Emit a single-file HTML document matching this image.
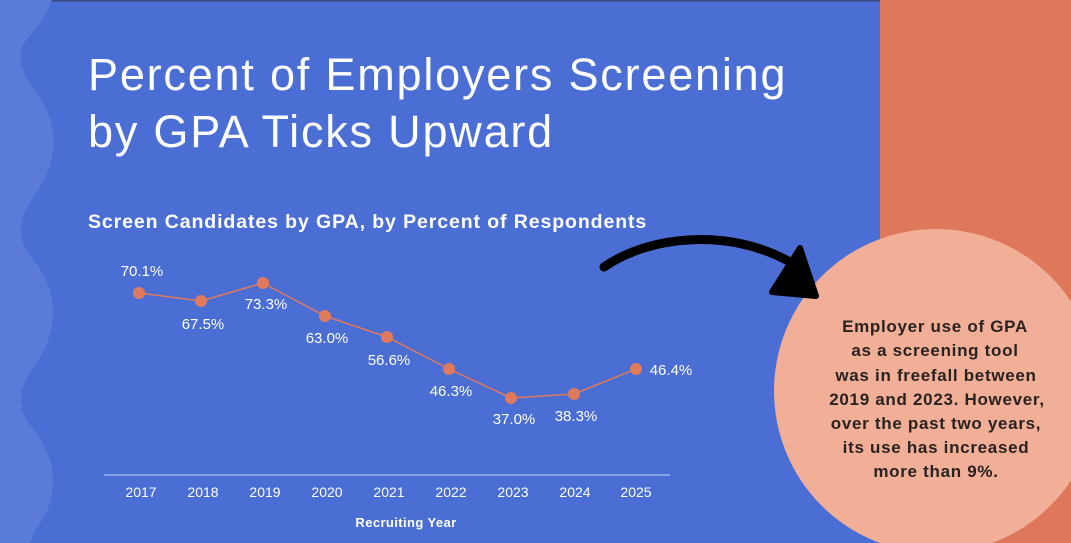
<!DOCTYPE html>
<html><head><style>
body{margin:0;width:1071px;height:543px;overflow:hidden;background:#4a6fd3;font-family:"Liberation Sans",sans-serif;}
</style></head><body>
<svg width="1071" height="543" viewBox="0 0 1071 543" xmlns="http://www.w3.org/2000/svg" style="position:absolute;left:0;top:0">
<rect width="1071" height="543" fill="#4a6ed3"/>
<rect width="1071" height="1.5" fill="#3a4a7a"/>
<path d="M0 0 L52 0 C45 20 35 30 28 38 C15 52 20 70 35 90 C60 125 60 160 35 195 C20 215 15 235 30 255 C60 290 60 330 35 365 C20 385 15 405 30 425 C60 460 60 500 35 530 L30 543 L0 543 Z" fill="#5a7bd8"/>
<rect x="880" y="0" width="191" height="543" fill="#df775b"/>
<circle cx="936" cy="391" r="162" fill="#f1af97"/>
<text x="88" y="90" font-size="45" fill="#fff" font-weight="300" style="letter-spacing:1.8px">Percent of Employers Screening</text>
<text x="88" y="147" font-size="45" fill="#fff" font-weight="300" style="letter-spacing:1.8px">by GPA Ticks Upward</text>
<text x="88" y="228" font-size="19.5" fill="#fff" font-weight="bold" style="letter-spacing:0.9px">Screen Candidates by GPA, by Percent of Respondents</text>
<path d="M604 267 C650 235 730 228 790 262" stroke="#000" stroke-width="9" fill="none" stroke-linecap="round"/>
<path d="M772 292 L800 248 L816 296 Z" fill="#000" stroke="#000" stroke-width="6" stroke-linejoin="round"/>
<line x1="104" y1="475" x2="670" y2="475" stroke="#c8d2f0" stroke-width="1"/>
<polyline points="139,293 201,301 263,283 325,316 387,337 449,369 511,398 574,394 636,369" fill="none" stroke="#e07a5c" stroke-width="1.5"/>
<g fill="#e07a5c">
<circle cx="139" cy="293" r="6"/><circle cx="201" cy="301" r="6"/><circle cx="263" cy="283" r="6"/><circle cx="325" cy="316" r="6"/><circle cx="387" cy="337" r="6"/><circle cx="449" cy="369" r="6"/><circle cx="511" cy="398" r="6"/><circle cx="574" cy="394" r="6"/><circle cx="636" cy="369" r="6"/></g>
<g fill="#fff" font-size="15" text-anchor="middle">
<text x="142" y="276">70.1%</text><text x="203" y="329">67.5%</text><text x="266" y="309">73.3%</text><text x="327" y="343">63.0%</text><text x="389" y="365">56.6%</text><text x="451" y="396">46.3%</text><text x="514" y="424">37.0%</text><text x="576" y="421">38.3%</text><text x="671" y="375">46.4%</text>
</g>
<g fill="#fff" font-size="14" text-anchor="middle">
<text x="141" y="497">2017</text><text x="203" y="497">2018</text><text x="265" y="497">2019</text><text x="327" y="497">2020</text><text x="389" y="497">2021</text><text x="451" y="497">2022</text><text x="513" y="497">2023</text><text x="575" y="497">2024</text><text x="636" y="497">2025</text>
</g>
<text x="406" y="527" fill="#fff" font-size="13" font-weight="bold" text-anchor="middle" style="letter-spacing:0.4px">Recruiting Year</text>
<g fill="#2a2220" font-size="17" font-weight="bold" text-anchor="middle" style="letter-spacing:0.7px">
<text x="935" y="332">Employer use of GPA</text>
<text x="935" y="356">as a screening tool</text>
<text x="936" y="381">was in freefall between</text>
<text x="937" y="405">2019 and 2023. However,</text>
<text x="936" y="429">over the past two years,</text>
<text x="936" y="453">its use has increased</text>
<text x="936" y="477">more than 9%.</text>
</g>
</svg>
</body></html>
